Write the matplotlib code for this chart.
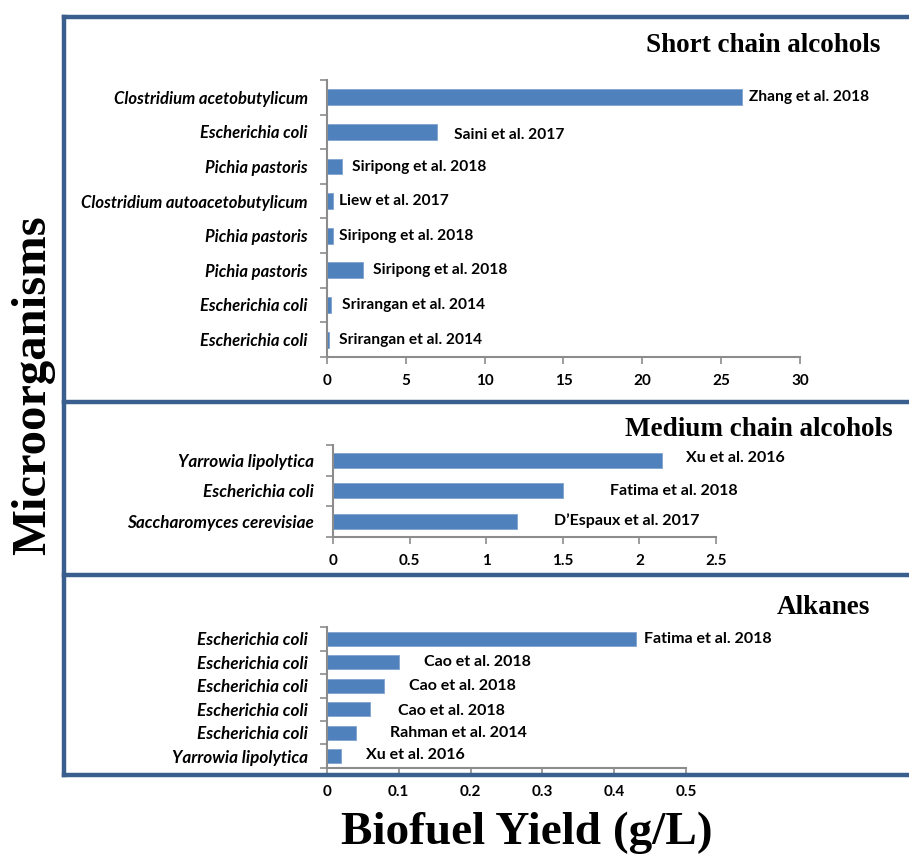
import matplotlib.pyplot as plt
import numpy as np

# Short chain alcohols (top to bottom)
short_species = ['Clostridium acetobutylicum', 'Escherichia coli', 'Pichia pastoris',
                 'Clostridium autoacetobutylicum', 'Pichia pastoris', 'Pichia pastoris',
                 'Escherichia coli', 'Escherichia coli']
short_yield = [26.3, 7.0, 0.95, 0.4, 0.4, 2.3, 0.25, 0.12]
short_refs = ['Zhang et al. 2018', 'Saini et al. 2017', 'Siripong et al. 2018',
              'Liew et al. 2017', 'Siripong et al. 2018', 'Siripong et al. 2018',
              'Srirangan et al. 2014', 'Srirangan et al. 2014']

# Medium chain alcohols
medium_species = ['Yarrowia lipolytica', 'Escherichia coli', 'Saccharomyces cerevisiae']
medium_yield = [2.15, 1.5, 1.2]
medium_refs = ['Xu et al. 2016', 'Fatima et al. 2018', 'D\u2019Espaux et al. 2017']

# Alkanes
alk_species = ['Escherichia coli', 'Escherichia coli', 'Escherichia coli',
               'Escherichia coli', 'Escherichia coli', 'Yarrowia lipolytica']
alk_yield = [0.43, 0.1, 0.08, 0.06, 0.04, 0.02]
alk_refs = ['Fatima et al. 2018', 'Cao et al. 2018', 'Cao et al. 2018',
            'Cao et al. 2018', 'Rahman et al. 2014', 'Xu et al. 2016']

BAR = '#4F81BD'
FRAME = '#3A5F8F'
AXC = '#8C8C8C'
LFONT = 'Lato'
SERIF = 'Liberation Serif'

fig = plt.figure(figsize=(9.09, 8.6), dpi=100)


def panel(rect, species, vals, refs, xmax, xstep, bh, offs, dy, xfmt, fs):
    ax = fig.add_axes(rect)
    n = len(species)
    y = np.arange(n)
    ax.barh(y, vals, height=bh, color=BAR, edgecolor='#7FA3D0', linewidth=0.6)
    ax.set_ylim(n - 0.5, -0.5)
    ax.set_xlim(0, xmax)
    ax.set_yticks(y)
    ax.set_yticklabels(species, fontfamily=LFONT, fontstyle='italic',
                       fontweight='bold', fontsize=fs)
    ax.set_yticks(np.arange(n + 1) - 0.5, minor=True)
    ax.tick_params(axis='y', which='major', length=0, pad=14)
    ax.tick_params(axis='y', which='minor', length=5, color=AXC, width=1.2)
    xt = np.arange(0, xmax + xstep / 2, xstep)
    ax.set_xticks(xt)
    ax.set_xticklabels([xfmt(v) for v in xt], fontfamily=LFONT,
                       fontweight='bold', fontsize=11)
    ax.tick_params(axis='x', length=5, color=AXC, width=1.2, pad=7)
    for s in ['top', 'right']:
        ax.spines[s].set_visible(False)
    for s in ['left', 'bottom']:
        ax.spines[s].set_color(AXC)
        ax.spines[s].set_linewidth(1.5)
    ax.patch.set_alpha(0)
    for i, (v, r) in enumerate(zip(vals, refs)):
        ax.annotate(r, (v, i), xytext=(offs[i], dy[i]), textcoords='offset points',
                    ha='left', va='center', fontfamily=LFONT, fontweight='bold',
                    fontsize=fs - 0.8, annotation_clip=False)
    return ax


def fmt_int(v):
    return '%d' % v


def fmt_g(v):
    return ('%g' % round(v, 2))


panel([0.3597, 0.585, 0.5204, 0.322], short_species, short_yield, short_refs,
      30, 5, 0.46, [5, 12, 7, 4, 4, 7, 8, 7], [0, -2, 0, 0, 0, 0, 0, 0], fmt_int, 12)
panel([0.3663, 0.3756, 0.4214, 0.1070], medium_species, medium_yield, medium_refs,
      2.5, 0.5, 0.49, [17, 34, 27], [2, 0, 1], fmt_g, 12.3)
panel([0.3597, 0.1070, 0.395, 0.1639], alk_species, alk_yield, alk_refs,
      0.5, 0.1, 0.58, [6, 18, 18, 20, 25, 18], [0, 0, 0, -1, 0, 1], fmt_g, 12.3)

# frame around the three panels
lw = 3.2
for yp in [17, 402, 575, 775]:
    fig.add_artist(plt.Line2D([0.0704, 1.0], [1 - yp / 860] * 2, color=FRAME, lw=lw,
                              transform=fig.transFigure))
fig.add_artist(plt.Line2D([0.0704, 0.0704], [1 - 17 / 860, 1 - 775 / 860], color=FRAME, lw=lw,
                          transform=fig.transFigure))

fig.text(880 / 909, 1 - 45 / 860, 'Short chain alcohols', ha='right', va='center',
         fontfamily=SERIF, fontweight='bold', fontsize=19.5)
fig.text(893 / 909, 1 - 430 / 860, 'Medium chain alcohols', ha='right', va='center',
         fontfamily=SERIF, fontweight='bold', fontsize=19.5)
fig.text(870 / 909, 1 - 608 / 860, 'Alkanes', ha='right', va='center',
         fontfamily=SERIF, fontweight='bold', fontsize=19.5)

fig.text(33 / 909, 1 - 385 / 860, 'Microorganisms', rotation=90, ha='center', va='center',
         fontfamily=SERIF, fontweight='bold', fontsize=35)
fig.text(527 / 909, 1 - 833 / 860, 'Biofuel Yield (g/L)', ha='center', va='center',
         fontfamily=SERIF, fontweight='bold', fontsize=34)

fig.savefig('out.png', dpi=100)
